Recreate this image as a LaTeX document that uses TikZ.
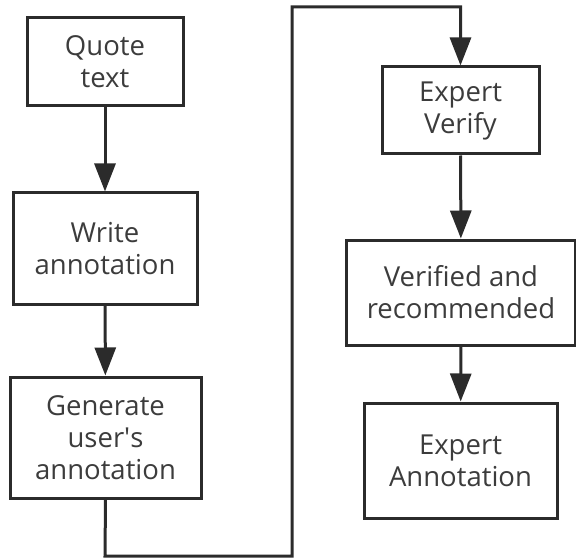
\documentclass[tikz,border=0pt]{standalone}
\usepackage{fontspec}
\setmainfont{Open Sans}
\usetikzlibrary{arrows.meta}
\definecolor{ink}{HTML}{2B2B2B}
\definecolor{txt}{HTML}{3C3C3C}
\begin{document}
\begin{tikzpicture}[x=1pt,y=-1pt,
  box/.style={draw=ink, line width=3pt, rectangle, align=center, inner sep=0pt,
    text=txt, font=\fontsize{27.5}{32}\selectfont},
  conn/.style={draw=ink, line width=3pt, -{Triangle[width=21pt,length=28pt]}}]
\useasboundingbox (0,0) rectangle (576,559);
\node[box, minimum width=156pt, minimum height=88pt] (q) at (105,62) {Quote\\text};
\node[box, minimum width=184pt, minimum height=111pt] (w) at (105,248.5) {Write\\annotation};
\node[box, minimum width=191pt, minimum height=121pt] (g) at (105.5,437.5) {Generate\\user\textquotesingle s\\annotation};
\node[box, minimum width=157pt, minimum height=87pt] (ev) at (460.5,110.5) {Expert\\Verify};
\node[box, minimum width=229pt, minimum height=105pt] (vr) at (461,292.5) {Verified and\\recommended};
\node[box, minimum width=193pt, minimum height=115pt] (ea) at (460.5,460.5) {Expert\\Annotation};
\coordinate (c1) at (105,556);
\coordinate (c2) at (292,556);
\coordinate (c3) at (292,7);
\coordinate (c4) at (460.5,7);
\draw[conn] (q) -- (w);
\draw[conn] (w) -- (g);
\draw[conn, line join=miter] (g.south) -- (c1) -- (c2) -- (c3) -- (c4) -- (ev.north);
\draw[conn] (ev) -- (vr);
\draw[conn] (vr) -- (ea);
\end{tikzpicture}
\end{document}
